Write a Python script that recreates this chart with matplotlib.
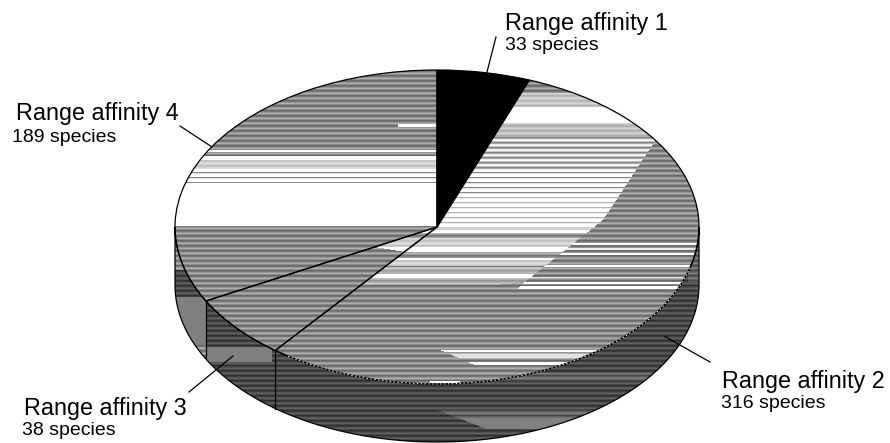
import numpy as np
import matplotlib
matplotlib.use("Agg")
import matplotlib.pyplot as plt
from matplotlib.path import Path
from matplotlib.patches import Polygon, Ellipse

plt.rcParams["font.family"] = ["Liberation Sans", "DejaVu Sans"]

categories = ["Range affinity 1", "Range affinity 2", "Range affinity 3", "Range affinity 4"]
species = [33, 316, 38, 189]

W, H = 890, 443
CX, CY, RX, RY = 437, 227, 262, 157
DEPTH = 58

# gray value of the scan lines, repeated every 5 rows
STRIPE = np.array([105, 120, 150, 175, 140])
LINES = np.array([255, 255, 135, 225, 255])
DENSE = np.array([250, 195, 130, 170, 235])
DARK = np.array([48, 62, 82, 98, 72])
MID = np.array([72, 92, 112, 128, 98])
FLAT = np.array([128, 128, 128, 128, 128])

yy, xx = np.mgrid[0:H, 0:W]
pts = np.column_stack([xx.ravel() + 0.5, yy.ravel() + 0.5])


def poly_mask(corners):
    return Path(corners).contains_points(pts).reshape(H, W)


def paint(tex, mask, bands, pattern):
    # bands are (first row, last row, how far towards white)
    for y0, y1, white in bands:
        for y in range(y0, y1):
            g = pattern[y % 5]
            tex[y][mask[y]] = 255 - (255 - g) * (1 - white)


# top face
top = STRIPE[yy % 5].astype(float)
left_upper = poly_mask([(170, 60), (437, 60), (437, 226), (170, 226)])
paint(top, left_upper, [(150, 152, 1), (156, 160, 1), (160, 168, 0.6), (183, 226, 1)], STRIPE)
paint(top, left_upper, [(168, 183, 0)], LINES)
paint(top, poly_mask([(398, 124), (437, 124), (437, 127), (398, 127)]), [(124, 127, 1)], STRIPE)

slice2_light = poly_mask([(437, 70), (530, 70), (660, 134), (603, 220), (525, 282),
                          (400, 295), (340, 295), (360, 285), (405, 252), (375, 247), (437, 226)])
paint(top, slice2_light, [(93, 107, 0.5), (107, 123, 1), (123, 137, 0.45),
                          (227, 230, 0.5), (230, 233, 1), (233, 238, 0.1), (238, 247, 0.6),
                          (247, 252, 1), (252, 257, 0.1), (258, 260, 1), (260, 266, 0.6),
                          (267, 273, 0.35), (274, 278, 1), (278, 285, 0.3)], STRIPE)
paint(top, slice2_light, [(137, 170, 0)], DENSE)
paint(top, slice2_light, [(170, 195, 0), (195, 227, 0.35)], LINES)
right_rows = poly_mask([(603, 220), (705, 220), (705, 292), (515, 292), (525, 282)])
paint(top, right_rows, [(243, 245, 1), (248, 250, 0.8), (253, 255, 1), (265, 267, 1),
                        (277, 278, 0.8), (282, 284, 1), (286, 289, 1)], STRIPE)
low_patch = poly_mask([(438, 349), (468, 362), (477, 366), (585, 366), (603, 347)])
paint(top, low_patch, [(350, 352, 1), (354, 358, 0.8), (362, 365, 1)], STRIPE)
paint(top, poly_mask([(430, 381), (460, 381), (460, 384), (430, 384)]), [(381, 384, 1)], STRIPE)

# side wall
side = DARK[yy % 5].astype(float)
left_wall = poly_mask([(170, 225), (206, 225), (206, 380), (170, 380)])
paint(side, left_wall, [(225, 270, 0), (345, 360, 0)], STRIPE)
paint(side, left_wall, [(297, 345, 0)], FLAT)
mid_wall = poly_mask([(206, 340), (272, 340), (272, 365), (206, 365)])
paint(side, mid_wall, [(347, 362, 0)], FLAT)
paint(side, poly_mask([(437, 365), (655, 365), (655, 385), (437, 385)]), [(373, 381, 0)], MID)
low_wall = poly_mask([(437, 410), (487, 429), (495, 434), (600, 434), (600, 410)])
paint(side, low_wall, [(410, 418, 0)], MID)
paint(side, low_wall, [(418, 429, 0)], FLAT)
paint(side, poly_mask([(688, 225), (705, 225), (705, 282), (688, 282)]), [(225, 282, 0)], MID)

fig = plt.figure(figsize=(W / 100, H / 100), dpi=100)

ax_px = fig.add_axes([0, 0, 1, 1], zorder=1)
ax_px.set_axis_off()

# pie sits in an axes stretched so that its circle comes out as the ellipse
ax_pie = fig.add_axes([0, 0, 1, 1], zorder=2)
ax_pie.patch.set_visible(False)
wedges, _ = ax_pie.pie(species, radius=RX, startangle=90, counterclock=False,
                       colors=["black", "none", "none", "none"],
                       wedgeprops={"edgecolor": "black", "linewidth": 0.9})

# white specks along the front rim
rim = np.radians(np.linspace(105, 215, 200))
ax_pie.plot(RX * np.sin(rim), RX * np.cos(rim), color="white", lw=0.7, ls=(0, (1.5, 2.5)), zorder=5)

ax_pie.set_aspect("auto")
ax_pie.set_xlim(-CX, W - CX)
ax_pie.set_ylim((CY - H) * RX / RY, CY * RX / RY)

ax_px.set_xlim(0, W)
ax_px.set_ylim(H, 0)

# wall outline follows the lower half of the ellipse
theta = np.radians(np.linspace(90, 270, 200))
arc_x = CX + RX * np.sin(theta)
arc_y = CY - RY * np.cos(theta)
wall = np.vstack([np.column_stack([arc_x, arc_y]),
                  np.column_stack([arc_x, arc_y + DEPTH])[::-1]])
wall_patch = Polygon(wall, closed=True, facecolor="none", edgecolor="black", linewidth=0.9, zorder=4)
ax_px.add_patch(wall_patch)

im_side = ax_px.imshow(side, cmap="gray", vmin=0, vmax=255, extent=(0, W, H, 0),
                       aspect="auto", interpolation="nearest", zorder=2)
im_side.set_clip_path(wall_patch)

top_clip = Ellipse((CX, CY), 2 * RX, 2 * RY, facecolor="none", edgecolor="none", zorder=1)
ax_px.add_patch(top_clip)
im_top = ax_px.imshow(top, cmap="gray", vmin=0, vmax=255, extent=(0, W, H, 0),
                      aspect="auto", interpolation="nearest", zorder=3)
im_top.set_clip_path(top_clip)
ax_px.set_xlim(0, W)
ax_px.set_ylim(H, 0)

# wall edges under the slice boundaries
for v in np.cumsum(species)[1:3]:
    a = np.radians(v / sum(species) * 360)
    ex = CX + RX * np.sin(a)
    ey = CY - RY * np.cos(a)
    ax_px.plot([ex, ex], [ey, ey + DEPTH], color="black", lw=0.9, zorder=5)

# leader lines
leaders = [((496, 37), (487, 72)), ((710, 362), (664, 336)),
           ((189, 392), (233, 356)), ((180, 126), (212, 147))]
for a, b in leaders:
    ax_px.plot([a[0], b[0]], [a[1], b[1]], color="black", lw=0.9, zorder=5)

name_pos = [(505, 30), (722, 388), (24, 415), (16, 120)]
count_pos = [(505, 50), (721, 408), (22, 435), (12, 142)]
for name, n, p, q in zip(categories, species, name_pos, count_pos):
    ax_px.text(p[0], p[1], name, fontsize=16.8, color="black", va="baseline", ha="left", zorder=6)
    ax_px.text(q[0], q[1], f"{n} species", fontsize=14, color="black", va="baseline", ha="left", zorder=6)

fig.savefig("out.png", dpi=100)
